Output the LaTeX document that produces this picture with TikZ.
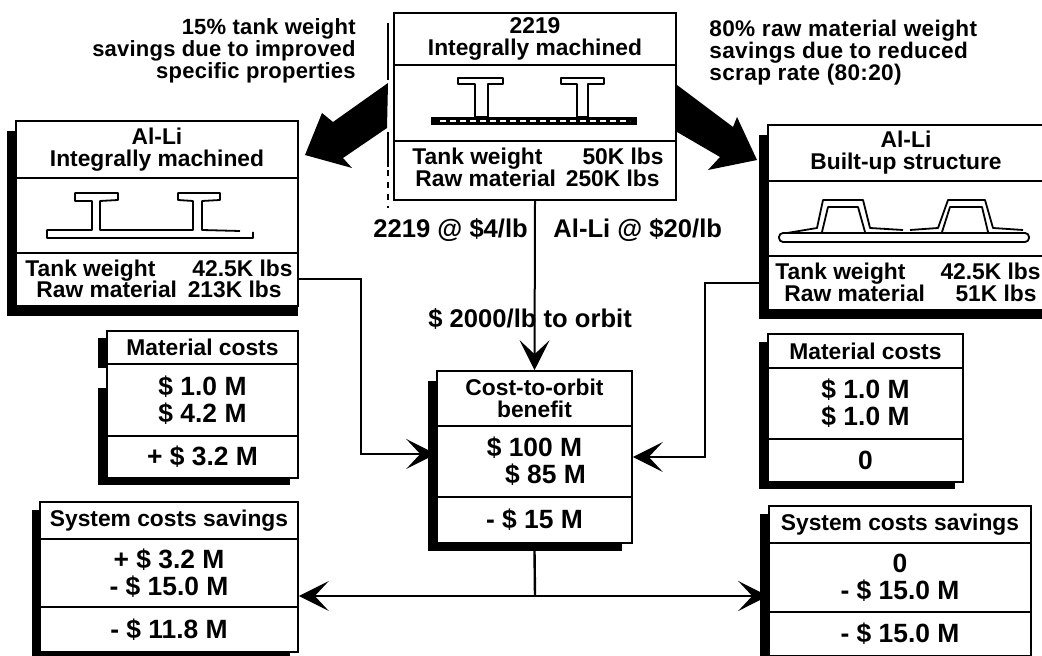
\documentclass[tikz,border=0pt]{standalone}
\usepackage{fontspec}
\setmainfont{Liberation Sans}
\usetikzlibrary{arrows.meta}
\tikzset{
  cell/.style={draw,fill=white,line width=0.8pt,inner sep=0pt,align=center,font=\fontsize{11.4}{11}\selectfont\bfseries},
  bigval/.style={cell,font=\fontsize{13.2}{13.5}\selectfont\bfseries},
  rowtext/.style={inner sep=0pt,font=\fontsize{11.4}{11}\selectfont\bfseries},
  pricetext/.style={inner sep=0pt,font=\fontsize{12.8}{13}\selectfont\bfseries},
  notetext/.style={inner sep=0pt,align=left,font=\fontsize{11.3}{11}\selectfont\bfseries\addfontfeature{LetterSpace=1.5}},
  noteleftext/.style={inner sep=0pt,align=right,font=\fontsize{11}{11}\selectfont\bfseries\addfontfeature{LetterSpace=1}},
  shadow/.style={fill=black},
  flow/.style={line width=1pt,-{Stealth[length=15pt,width=15pt,inset=7pt]}},
  beam/.style={line width=0.9pt,line join=round},
  bigarrow/.style={fill=black}
}
\begin{document}
\begin{tikzpicture}[x=0.5pt,y=-0.5pt]
  \useasboundingbox (0,0) rectangle (1042,656);
  % shadows
  \fill[shadow] (7,131) rectangle (298,316);
  \fill[shadow] (759,135) rectangle (1042,319);
  \fill[shadow] (98,338) rectangle (290,368);
  \fill[shadow] (98,388) rectangle (290,485);
  \fill[shadow] (32,510) rectangle (290,656);
  \fill[shadow] (428,381) rectangle (622,551);
  \fill[shadow] (759,342) rectangle (955,489);
  \fill[shadow] (760,514) rectangle (1031,656);
  % top panel
  \node[cell,minimum width=141pt,minimum height=26pt] (tophead) at (535,39) {2219\\Integrally machined};
  \node[cell,minimum width=141pt,minimum height=38pt] (topimage) at (535,103) {};
  \node[cell,minimum width=141pt,minimum height=29.5pt] (toptable) at (535,170.5) {};
  \filldraw[fill=white,beam] (475,84) -- (475,117) -- (488,117) -- (488,84) -- (503,84) -- (503,78) -- (458,78) -- (458,84) -- cycle;
  \filldraw[fill=white,beam] (577,84) -- (577,117) -- (588,117) -- (588,84) -- (604,84) -- (604,78) -- (561,78) -- (561,84) -- cycle;
  \fill (431,117) rectangle (637,125);
  \draw[white,line width=1.2pt,dash pattern=on 3pt off 2pt] (440,121) -- (630,121);
  \node[rowtext,anchor=base west] (toptank) at (412,165) {Tank weight};
  \node[rowtext,anchor=base east] (toptankval) at (664,165) {50K lbs};
  \node[rowtext,anchor=base west] (topraw) at (415,187) {Raw material};
  \node[rowtext,anchor=base east] (toprawval) at (660,187) {250K lbs};
  % left panel
  \node[cell,minimum width=141pt,minimum height=28.5pt] (lefthead) at (157,149.5) {Al-Li\\Integrally machined};
  \node[cell,minimum width=141pt,minimum height=37.5pt] (leftimage) at (157,215.5) {};
  \node[cell,minimum width=141pt,minimum height=26.5pt] (lefttable) at (157,279.5) {};
  \draw[beam] (253,232) -- (253,238) -- (47,238) -- (47,230) -- (92,230) -- (92,201) -- (75,201) -- (75,193) -- (118,193) -- (118,200) -- (100,201) -- (100,230) -- (193,230) -- (193,201) -- (178,200) -- (178,193) -- (220,193) -- (220,200) -- (202,201) -- (202,230) -- (240,231);
  \node[rowtext,anchor=base west] (lefttank) at (25,277) {Tank weight};
  \node[rowtext,anchor=base east] (lefttankval) at (293,277) {42.5K lbs};
  \node[rowtext,anchor=base west] (leftraw) at (36,298) {Raw material};
  \node[rowtext,anchor=base east] (leftrawval) at (282,298) {213K lbs};
  % right panel
  \node[cell,minimum width=138pt,minimum height=28pt] (righthead) at (906,153) {Al-Li\\Built-up structure};
  \node[cell,minimum width=138pt,minimum height=37.5pt] (rightimage) at (906,218.5) {};
  \node[cell,minimum width=138pt,minimum height=27pt] (righttable) at (906,283) {};
  \draw[beam,rounded corners=2pt] (779,233) -- (1029,233) -- (1029,242) -- (779,242) -- cycle;
  \draw[beam] (787,233) -- (817,228) -- (823,200) -- (863,200) -- (870,228) -- (903,230);
  \draw[beam] (910,230) -- (938,228) -- (948,200) -- (985,200) -- (993,228) -- (1023,230);
  \draw[beam] (822,232) -- (828,207) -- (858,207) -- (865,232);
  \draw[beam] (942,232) -- (950,207) -- (982,207) -- (988,232);
  \node[rowtext,anchor=base west] (righttank) at (775,280) {Tank weight};
  \node[rowtext,anchor=base east] (righttankval) at (1041,280) {42.5K lbs};
  \node[rowtext,anchor=base west] (rightraw) at (784,302) {Raw material};
  \node[rowtext,anchor=base east] (rightrawval) at (1037,302) {51K lbs};
  % material costs
  \node[cell,minimum width=95.5pt,minimum height=16.5pt] (matlefthead) at (202.5,347.5) {Material costs};
  \node[bigval,minimum width=95.5pt,minimum height=36pt] (matleftval) at (202.5,400) {\$ 1.0 M\\\$ 4.2 M};
  \node[bigval,minimum width=95.5pt,minimum height=21pt] (matleftsum) at (202.5,457) {+ \$ 3.2 M};
  \node[cell,minimum width=97.5pt,minimum height=17pt] (matrighthead) at (865.5,351) {Material costs};
  \node[bigval,minimum width=97.5pt,minimum height=35.5pt] (matrightval) at (865.5,403.5) {\$ 1.0 M\\\$ 1.0 M};
  \node[bigval,minimum width=97.5pt,minimum height=21.5pt] (matrightsum) at (865.5,460.5) {0};
  % system costs
  \node[cell,minimum width=129pt,minimum height=18.5pt] (syslefthead) at (169,520.5) {System costs savings};
  \node[bigval,minimum width=129pt,minimum height=34pt] (sysleftval) at (169,573) {+ \$ 3.2 M\\- \$ 15.0 M};
  \node[bigval,minimum width=129pt,minimum height=22.5pt] (sysleftsum) at (169,629.5) {- \$ 11.8 M};
  \node[cell,minimum width=131pt,minimum height=18.5pt] (sysrighthead) at (900,524.5) {System costs savings};
  \node[bigval,minimum width=131pt,minimum height=34.5pt] (sysrightval) at (900,577.5) {0\\- \$ 15.0 M};
  \node[bigval,minimum width=131pt,minimum height=22pt] (sysrightsum) at (900,634) {- \$ 15.0 M};
  % cost-to-orbit
  \node[cell,minimum width=97.5pt,minimum height=27.5pt] (costhead) at (534.5,398.5) {Cost-to-orbit\\benefit};
  \node[bigval,minimum width=97.5pt,minimum height=35.5pt] (costval) at (534.5,461.5) {\$ 100 M\\\phantom{\$ }\$ 85 M};
  \node[bigval,minimum width=97.5pt,minimum height=23pt] (costsum) at (534.5,520) {- \$ 15 M};
  % notes
  \node[noteleftext,anchor=north east] (noteleft) at (356,18) {15\% tank weight\\savings due to improved\\specific properties};
  \node[notetext,anchor=north west] (noteright) at (709,20) {80\% raw material weight\\savings due to reduced\\scrap rate (80:20)};
  \node[pricetext,anchor=base west] (priceold) at (373,238) {2219 @ \$4/lb};
  \node[pricetext,anchor=base west] (pricenew) at (553,238) {Al-Li @ \$20/lb};
  \node[pricetext,anchor=base west] (orbitrate) at (428,328) {\$ 2000/lb to orbit};
  % connectors
  \coordinate (junction) at (535,596);
  \draw[flow] (toptable.south) -- (costhead.north);
  \draw[flow] (lefttable.east) -| (361,454) -- (costval.west |- 0,454);
  \draw[flow] (righttable.west) -| (705,457) -- (costval.east |- 0,457);
  \draw[line width=1.2pt] (costsum.south |- 0,551) -- (junction);
  \draw[flow] (junction) -- (sysleftval.east |- junction);
  \draw[flow] (junction) -- (sysrightval.west |- junction);
  % big arrows and rule
  \fill[bigarrow] (388,83) -- (333,122) -- (322,113) -- (305,155) -- (352,168) -- (343,158) -- (387,128) -- cycle;
  \fill[bigarrow] (677,85) -- (733,127) -- (737,117) -- (757,160) -- (708,170) -- (720,157) -- (677,132) -- cycle;
  \draw[line width=1.3pt] (388,23) -- (388,80);
  \draw[line width=1.3pt] (388,132) -- (388,167);
  \draw[line width=1.3pt,dash pattern=on 3pt off 3pt] (388,170) -- (388,208);
\end{tikzpicture}
\end{document}
